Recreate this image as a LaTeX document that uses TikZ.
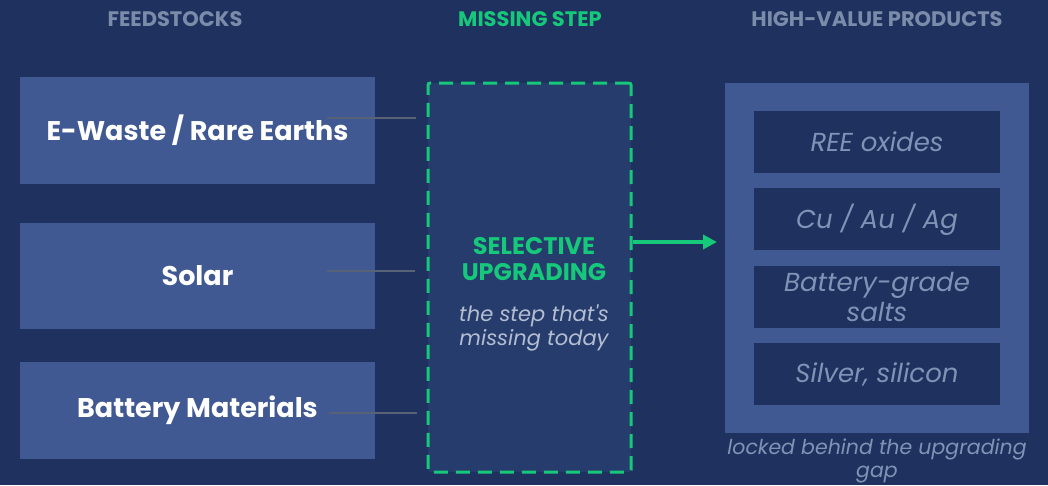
\documentclass[tikz,border=0pt]{standalone}
\usepackage{fontspec}
\setmainfont{Poppins}
\usepackage{tikz}
\usetikzlibrary{positioning, arrows.meta}
\definecolor{navybg}{RGB}{31,49,94}
\definecolor{feedblue}{RGB}{65,89,147}
\definecolor{gapfill}{RGB}{38,60,108}
\definecolor{upgreen}{RGB}{22,200,122}
\definecolor{headgray}{RGB}{122,140,170}
\definecolor{prodtext}{RGB}{128,147,182}
\definecolor{notegray}{RGB}{180,190,210}
\definecolor{linegray}{RGB}{88,98,118}
\tikzset{
	header/.style={font=\bfseries\fontsize{21}{24}\selectfont, text=headgray, inner sep=0pt},
	feed/.style={rectangle, fill=feedblue, text=white, minimum width=355pt, font=\bfseries\fontsize{27}{30}\selectfont, inner sep=0pt},
	gapbox/.style={rectangle, draw=upgreen, fill=gapfill, line width=3pt, dash pattern=on 14pt off 8pt, rounded corners=2pt, minimum width=203pt, minimum height=389pt},
	product/.style={rectangle, fill=navybg, text=prodtext, minimum width=246pt, minimum height=62pt, align=center, font=\itshape\fontsize{26}{30}\selectfont, inner sep=0pt},
	feedline/.style={draw=linegray, line width=1.5pt},
}
\tikzset{uparrow/.style={draw=upgreen, line width=4pt, -{Triangle[length=14pt,width=14pt]}}}

\begin{document}
\begin{tikzpicture}[x=1pt,y=-1pt]
	% background and page size
	\fill[navybg] (0,0) rectangle (1048,485);
	\useasboundingbox (0,0) rectangle (1048,485);
	% column headers
	\node[header] (hfeed) at (175,19) {FEEDSTOCKS};
	\node[header, text=upgreen] (hmiss) at (530,19) {MISSING STEP};
	\node[header] (hprod) at (877,19) {HIGH-VALUE PRODUCTS};
	% feedstocks
	\node[feed, minimum height=107pt] (ewaste) at (197.5,130.5) {E-Waste / Rare Earths};
	\node[feed, minimum height=106pt] (solar) at (197.5,275.5) {Solar};
	\node[feed, minimum height=97pt] (battery) at (197.5,410.5) {Battery Materials};
	% the missing step
	\node[gapbox] (gap) at (529.5,277.5) {};
	\node[text=upgreen, align=center, font=\bfseries\fontsize{24}{26}\selectfont, inner sep=0pt] (gaptitle) at (534,259) {SELECTIVE\\UPGRADING};
	\node[text=notegray, align=center, font=\itshape\fontsize{21}{24}\selectfont, inner sep=0pt] (gapnote) at (534,328) {the step that\textquotesingle s\\missing today};
	% products
	\node[rectangle, fill=feedblue, minimum width=304pt, minimum height=350pt] (panel) at (877,258) {};
	\node[product] (ree) at (877,142) {REE oxides};
	\node[product, below=15pt of ree] (cuau) {Cu / Au / Ag};
	\node[product, below=15pt of cuau, font=\itshape\fontsize{26}{30}\selectfont] (salts) {Battery-grade\\salts};
	\node[product, below=15pt of salts] (silver) {Silver, silicon};
	\node[text=prodtext, align=center, font=\itshape\fontsize{20.5}{23}\selectfont, inner sep=0pt] (locked) at (877,461) {locked behind the upgrading\\gap};
	% connectors
	\coordinate (e1) at (416,118);
	\coordinate (e2) at (415,271);
	\coordinate (e3) at (417,413);
	\draw[feedline] (ewaste.east |- e1) ++(-48,0) -- (e1);
	\draw[feedline] (solar.east |- e2) ++(-48,0) -- (e2);
	\draw[feedline] (battery.east |- e3) ++(-46,0) -- (e3);
	\coordinate (tip) at (717,242);
	\draw[uparrow] (gap.east |- tip) -- (tip);
\end{tikzpicture}
\end{document}
